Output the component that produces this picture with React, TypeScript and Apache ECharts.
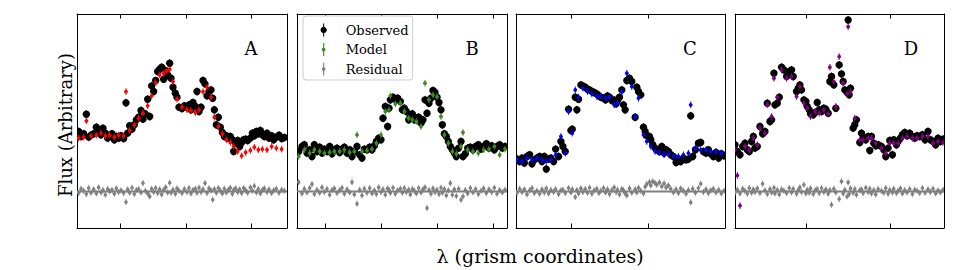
import React, { useEffect, useRef } from "react";
import * as echarts from "echarts";

// ---- Panel A (red model) ----
const xA = [25,32,40,48,55,62,70,78,85,92,98,105,112,118,125,132,138,145,152,160,167,172,178,185,192,198,205,212,218,225,232,238,244,250,256,262,268,274,280,286,292,298,302,308,315,320,326,335,342,350,356,362,368,375,380,386,392,398,404,410,416,422,427,432,438,444,450,456,462,468,474,480,486,490,496,502,508,514,520,526,532,540,546,552,558,564,570,576,582,590,596,604,610,618,626,634,642];
const obsA = [180,165,173,232,163,169,173,193,177,170,190,175,160,167,173,155,165,160,167,159,266,175,197,187,200,215,223,243,217,233,277,225,317,300,333,360,367,373,337,363,350,385,340,313,295,283,253,249,257,253,260,245,267,255,300,240,253,333,323,287,300,305,280,245,200,223,193,177,165,167,160,165,155,120,145,153,135,147,155,157,153,160,175,167,180,173,183,170,165,175,160,167,155,163,169,159,162];
const resA = [-5,8,2,-8,10,-4,6,-6,12,-3,4,-10,7,0,5,-7,9,-2,3,-5,-32,6,-4,11,-8,4,7,-3,25,2,-6,-15,8,-2,10,-5,6,-9,4,12,-3,26,-4,5,-7,9,2,-5,7,-2,10,-6,4,8,-4,11,-2,6,25,-5,9,3,-25,7,-4,10,2,-6,8,-3,5,11,-7,4,9,-2,6,-5,10,3,-4,12,2,16,-3,7,-6,4,9,-2,6,-5,3,8,-4,5,2];
const xModA = [25,40,48,62,78,92,105,118,132,145,160,167,178,192,205,218,232,244,256,268,280,289,298,308,320,335,350,362,375,386,398,410,422,432,444,456,468,480,490,502,514,526,540,552,564,576,590,604,618,634];
const modA = [160,163,212,167,169,175,167,169,163,169,167,300,183,200,220,235,257,287,327,350,355,362,367,330,277,253,245,243,237,245,300,313,283,223,195,173,155,147,135,120,107,117,123,133,125,127,125,135,130,127];

// ---- Panel B (green model) ----
const xB = [25,35,42,50,58,65,72,80,88,95,102,110,118,125,132,140,148,155,162,170,178,185,192,200,208,215,222,230,238,245,252,258,265,272,278,285,292,296,300,308,315,322,330,336,342,348,355,360,366,372,378,385,392,398,404,410,416,422,428,434,440,446,452,456,462,468,474,480,486,492,498,505,512,518,525,532,540,548,556,564,572,580,588,596,604,612,620,628,636,644];
const obsB = [120,135,140,115,125,105,140,120,133,115,127,120,135,113,125,130,117,127,133,115,125,105,120,135,110,100,127,125,133,125,137,150,160,155,220,255,195,250,275,283,277,280,270,245,250,240,215,225,233,215,220,223,205,215,275,235,265,280,303,297,283,267,245,200,173,165,150,135,125,115,105,130,150,105,113,130,133,125,135,140,127,135,143,130,137,125,135,140,130,135];
const resB = [28,-6,8,-3,10,22,-8,5,-4,12,-2,7,-10,4,9,-5,3,11,-7,6,-3,28,-9,-37,5,-12,8,-4,10,-6,3,-8,12,-2,6,-10,9,4,-5,11,-7,3,8,-4,10,-2,5,-9,7,2,-6,10,-3,6,12,-50,4,-7,9,-2,5,-8,11,-4,7,-12,3,25,-10,6,-14,8,-25,-15,4,-6,10,-3,7,-8,2,9,-5,6,-2,11,-7,4,-3,5];
const xModB = [25,42,58,72,88,102,118,132,148,162,178,192,200,215,230,245,258,272,285,296,300,315,330,342,355,366,378,392,404,416,428,440,452,462,474,486,498,512,518,532,548,564,580,596,612,628,644];
const modB = [105,125,115,125,120,115,117,120,120,125,117,120,170,120,123,127,145,170,240,245,287,263,265,240,220,215,210,195,325,275,290,285,225,170,145,120,113,135,177,125,120,115,125,127,135,110,127];

// ---- Panel C (blue model) ----
const xC = [20,28,35,42,50,58,65,72,80,88,95,102,108,115,122,130,136,145,152,158,165,175,182,186,195,200,205,212,218,225,232,238,245,252,260,266,272,280,286,292,298,305,312,318,322,328,335,340,345,350,358,365,375,380,385,392,400,405,410,418,422,428,435,440,448,455,462,468,475,482,490,498,505,512,520,528,535,542,548,556,565,572,580,588,595,602,610,618,626,634,642];
const obsC = [97,90,100,85,105,110,83,95,100,105,90,105,67,97,100,90,127,105,150,135,120,247,183,187,283,245,277,320,317,313,307,305,300,297,293,287,283,280,275,287,283,273,275,263,273,283,305,260,245,333,340,330,223,313,300,290,193,180,167,165,155,140,130,125,120,135,115,125,120,110,105,87,95,90,100,95,97,227,105,125,145,147,120,115,125,113,105,117,100,113,107];
const resC = [-4,8,-2,6,-9,3,10,-5,2,-7,6,-3,9,-6,4,-2,7,-8,3,5,-5,10,-3,6,-17,4,-6,9,-2,7,-4,11,-7,3,8,-5,2,10,-3,6,-8,4,12,-2,5,-9,7,3,-6,-12,9,-4,6,-3,11,2,-6,14,22,28,18,30,25,20,27,15,24,12,18,8,-3,6,-5,9,2,-7,4,-33,8,-4,10,23,-2,6,-5,3,8,-3,5,-6,2];
const xModC = [20,35,50,65,80,95,108,122,136,152,165,175,186,195,205,218,232,245,260,272,286,298,312,322,335,350,365,375,385,400,410,422,435,448,462,475,490,505,520,535,542,556,572,588,602,618,634];
const modC = [95,90,100,95,100,95,90,95,110,165,115,240,175,305,283,310,300,293,285,287,280,283,260,265,300,355,315,225,280,170,150,135,120,117,110,113,105,105,110,115,260,130,125,125,120,120,115];

// ---- Panel D (purple model) ----
const xD = [15,22,30,38,45,52,58,65,70,75,82,90,98,105,112,120,125,132,135,142,148,155,162,170,178,185,190,200,205,210,215,222,228,232,238,242,250,256,262,268,275,282,288,295,300,305,312,318,328,335,340,345,352,355,358,362,370,375,380,390,395,400,408,415,420,425,432,438,445,455,462,468,475,480,488,492,500,505,512,518,525,532,540,548,555,562,570,578,586,595,602,610,618,625,632,640];
const obsD = [140,120,110,135,145,125,120,150,165,130,135,195,173,180,265,210,215,355,260,265,283,373,365,345,360,365,345,300,310,320,305,275,270,255,245,233,230,237,267,245,240,250,247,235,330,345,320,250,380,353,330,305,297,515,290,310,190,200,215,147,175,160,155,165,123,165,145,137,140,135,125,105,130,153,110,155,140,150,160,170,177,167,175,165,160,167,165,170,155,180,155,150,140,160,150,157];
const resD = [-3,5,-6,8,2,-7,10,-4,6,-2,9,-5,23,3,-8,7,-3,11,-6,4,-9,6,2,-5,10,-3,8,-7,4,12,-2,20,-6,5,-4,9,-8,3,7,-5,10,-2,6,-7,4,-40,8,-3,-23,30,-6,5,-15,27,-8,9,-4,7,-10,3,6,-5,11,-2,8,-6,4,-9,7,2,-4,10,-7,5,-3,8,-5,2,9,-6,4,-3,7,-8,5,2,-5,10,-4,6,-2,8,-6,3,-3,5];
const xModD = [15,22,30,45,58,70,82,90,105,112,125,132,142,155,170,185,200,210,222,232,242,256,268,282,295,300,312,318,328,340,352,355,362,375,390,400,415,425,438,455,468,480,492,505,518,532,548,562,578,595,610,625,640];
const modD = [125,48,-43,135,125,160,140,190,175,260,225,340,283,365,340,345,285,315,265,250,225,240,235,245,233,373,330,255,405,325,293,495,300,220,155,155,160,160,145,130,115,145,145,145,160,165,160,160,165,165,145,150,147];

// x tick positions (grism coordinates)
const ticksA = [150, 348, 543];
const ticksB = [105, 272, 440, 610];
const ticksC = [182, 414];
const ticksD = [228, 480];
const letters = ["A", "B", "C", "D"];

// uncertainties (flux units)
const OBS_ERR = 12;
const MOD_ERR = 10;
const RES_ERR = 9;

const Y_MIN = -110;
const Y_MAX = 533;

const PANELS = [
  { x: xA, obs: obsA, res: resA, xm: xModA, mod: modA, ticks: ticksA, xMin: 20, xMax: 650, color: "#ff0000", left: 77, width: 210 },
  { x: xB, obs: obsB, res: resB, xm: xModB, mod: modB, ticks: ticksB, xMin: 20, xMax: 650, color: "#3f8a22", left: 297, width: 210 },
  { x: xC, obs: obsC, res: resC, xm: xModC, mod: modC, ticks: ticksC, xMin: 17, xMax: 645, color: "#0000ff", left: 516, width: 209 },
  { x: xD, obs: obsD, res: resD, xm: xModD, mod: modD, ticks: ticksD, xMin: 15, xMax: 643, color: "#800080", left: 735, width: 209 },
];

const FONT = "'DejaVu Serif', serif";

const ICON_OBS = "path://M4.45,0H5.55V14H4.45Z M5,3.6A3.4,3.4 0 1 1 4.99,3.6Z";
const ICON_MOD = "path://M4.4,0H5.6V14H4.4Z M5,5A2,2 0 1 1 4.99,5Z";

function errItem(radius: number, lw: number) {
  return (params: any, api: any) => {
    const x = api.value(0);
    const y = api.value(1);
    const e = api.value(2);
    const c = api.coord([x, y]);
    const hi = api.coord([x, y + e]);
    const lo = api.coord([x, y - e]);
    const color = api.visual("color");
    return {
      type: "group",
      children: [
        { type: "line", shape: { x1: c[0], y1: hi[1], x2: c[0], y2: lo[1] }, style: { stroke: color, lineWidth: lw } },
        { type: "circle", shape: { cx: c[0], cy: c[1], r: radius }, style: { fill: color } },
      ],
    };
  };
}

function buildOption() {
  const grid: any[] = [];
  const xAxis: any[] = [];
  const yAxis: any[] = [];
  const series: any[] = [];
  const graphic: any[] = [];
  const letterX = [251, 472, 690, 911];

  PANELS.forEach((p, i) => {
    grid.push({ left: p.left, top: 14, width: p.width, height: 214, containLabel: false, outerBoundsMode: "none" });
    const xBase = {
      type: "value",
      gridIndex: i,
      min: p.xMin,
      max: p.xMax,
      axisLine: { show: true, onZero: false, lineStyle: { color: "#000", width: 1 } },
      axisTick: { show: true, inside: true, length: 4.5, customValues: p.ticks, lineStyle: { color: "#000", width: 1 } },
      axisLabel: { show: false },
      splitLine: { show: false },
    };
    xAxis.push({ ...xBase, position: "bottom" });
    xAxis.push({ ...xBase, position: "top" });
    const yBase = {
      type: "value",
      gridIndex: i,
      min: Y_MIN,
      max: Y_MAX,
      axisLine: { show: true, onZero: false, lineStyle: { color: "#000", width: 1 } },
      axisTick: { show: false },
      axisLabel: { show: false },
      splitLine: { show: false },
    };
    yAxis.push({ ...yBase, position: "left" });
    yAxis.push({ ...yBase, position: "right" });

    const suffix = i === 1 ? "" : " " + letters[i];
    const xi = 2 * i;
    const yi = 2 * i;
    series.push({
      type: "line",
      name: "zero" + i,
      xAxisIndex: xi,
      yAxisIndex: yi,
      data: [[p.xMin, 0], [p.xMax, 0]],
      symbol: "none",
      silent: true,
      lineStyle: { color: "#808080", width: 2 },
      z: 1,
    });
    series.push({
      type: "custom",
      name: "Residual" + suffix,
      xAxisIndex: xi,
      yAxisIndex: yi,
      clip: true,
      itemStyle: { color: "#808080" },
      renderItem: errItem(1.8, 1),
      data: p.x.map((v, k) => [v, p.res[k], RES_ERR]),
      z: 2,
    });
    series.push({
      type: "custom",
      name: "Observed" + suffix,
      xAxisIndex: xi,
      yAxisIndex: yi,
      clip: true,
      itemStyle: { color: "#000000" },
      renderItem: errItem(3.7, 1),
      data: p.x.map((v, k) => [v, p.obs[k], OBS_ERR]),
      z: 3,
    });
    series.push({
      type: "custom",
      name: "Model" + suffix,
      xAxisIndex: xi,
      yAxisIndex: yi,
      clip: true,
      itemStyle: { color: p.color },
      renderItem: errItem(1.9, 1),
      data: p.xm.map((v, k) => [v, p.mod[k], MOD_ERR]),
      z: 4,
    });

    graphic.push({
      type: "text",
      x: letterX[i],
      y: 48.5,
      style: { text: letters[i], font: `18px ${FONT}`, fill: "#000", align: "center", verticalAlign: "middle" },
      z: 10,
    });
  });

  graphic.push({
    type: "text",
    x: 65,
    y: 125,
    rotation: Math.PI / 2,
    style: { text: "Flux (Arbitrary)", font: `18px ${FONT}`, fill: "#000", align: "center", verticalAlign: "middle" },
  });
  graphic.push({
    type: "text",
    x: 540,
    y: 256,
    style: { text: "λ (grism coordinates)", font: `19px ${FONT}`, fill: "#000", align: "center", verticalAlign: "middle" },
  });

  return {
    animation: false,
    backgroundColor: "#ffffff",
    grid,
    xAxis,
    yAxis,
    series,
    graphic,
    legend: {
      show: true,
      selectedMode: false,
      orient: "vertical",
      left: 303,
      top: 16,
      padding: [7.5, 4, 4.5, 17.5],
      itemGap: 6.5,
      itemWidth: 34,
      itemHeight: 13,
      backgroundColor: "#ffffff",
      borderColor: "#cccccc",
      borderWidth: 1,
      borderRadius: 3,
      textStyle: { fontFamily: FONT, fontSize: 13, color: "#000" },
      data: [
        { name: "Observed", icon: ICON_OBS },
        { name: "Model", icon: ICON_MOD },
        { name: "Residual", icon: ICON_MOD },
      ],
      z: 20,
    },
  };
}

export default function App() {
  const ref = useRef<HTMLDivElement>(null);
  useEffect(() => {
    if (!ref.current) return;
    const chart = echarts.init(ref.current, null, { renderer: "svg" });
    chart.setOption(buildOption() as any);
    return () => chart.dispose();
  }, []);
  return (
    <div
      ref={ref}
      style={{ position: "absolute", left: 0, top: 0, width: 964, height: 270, background: "#fff" }}
    />
  );
}
